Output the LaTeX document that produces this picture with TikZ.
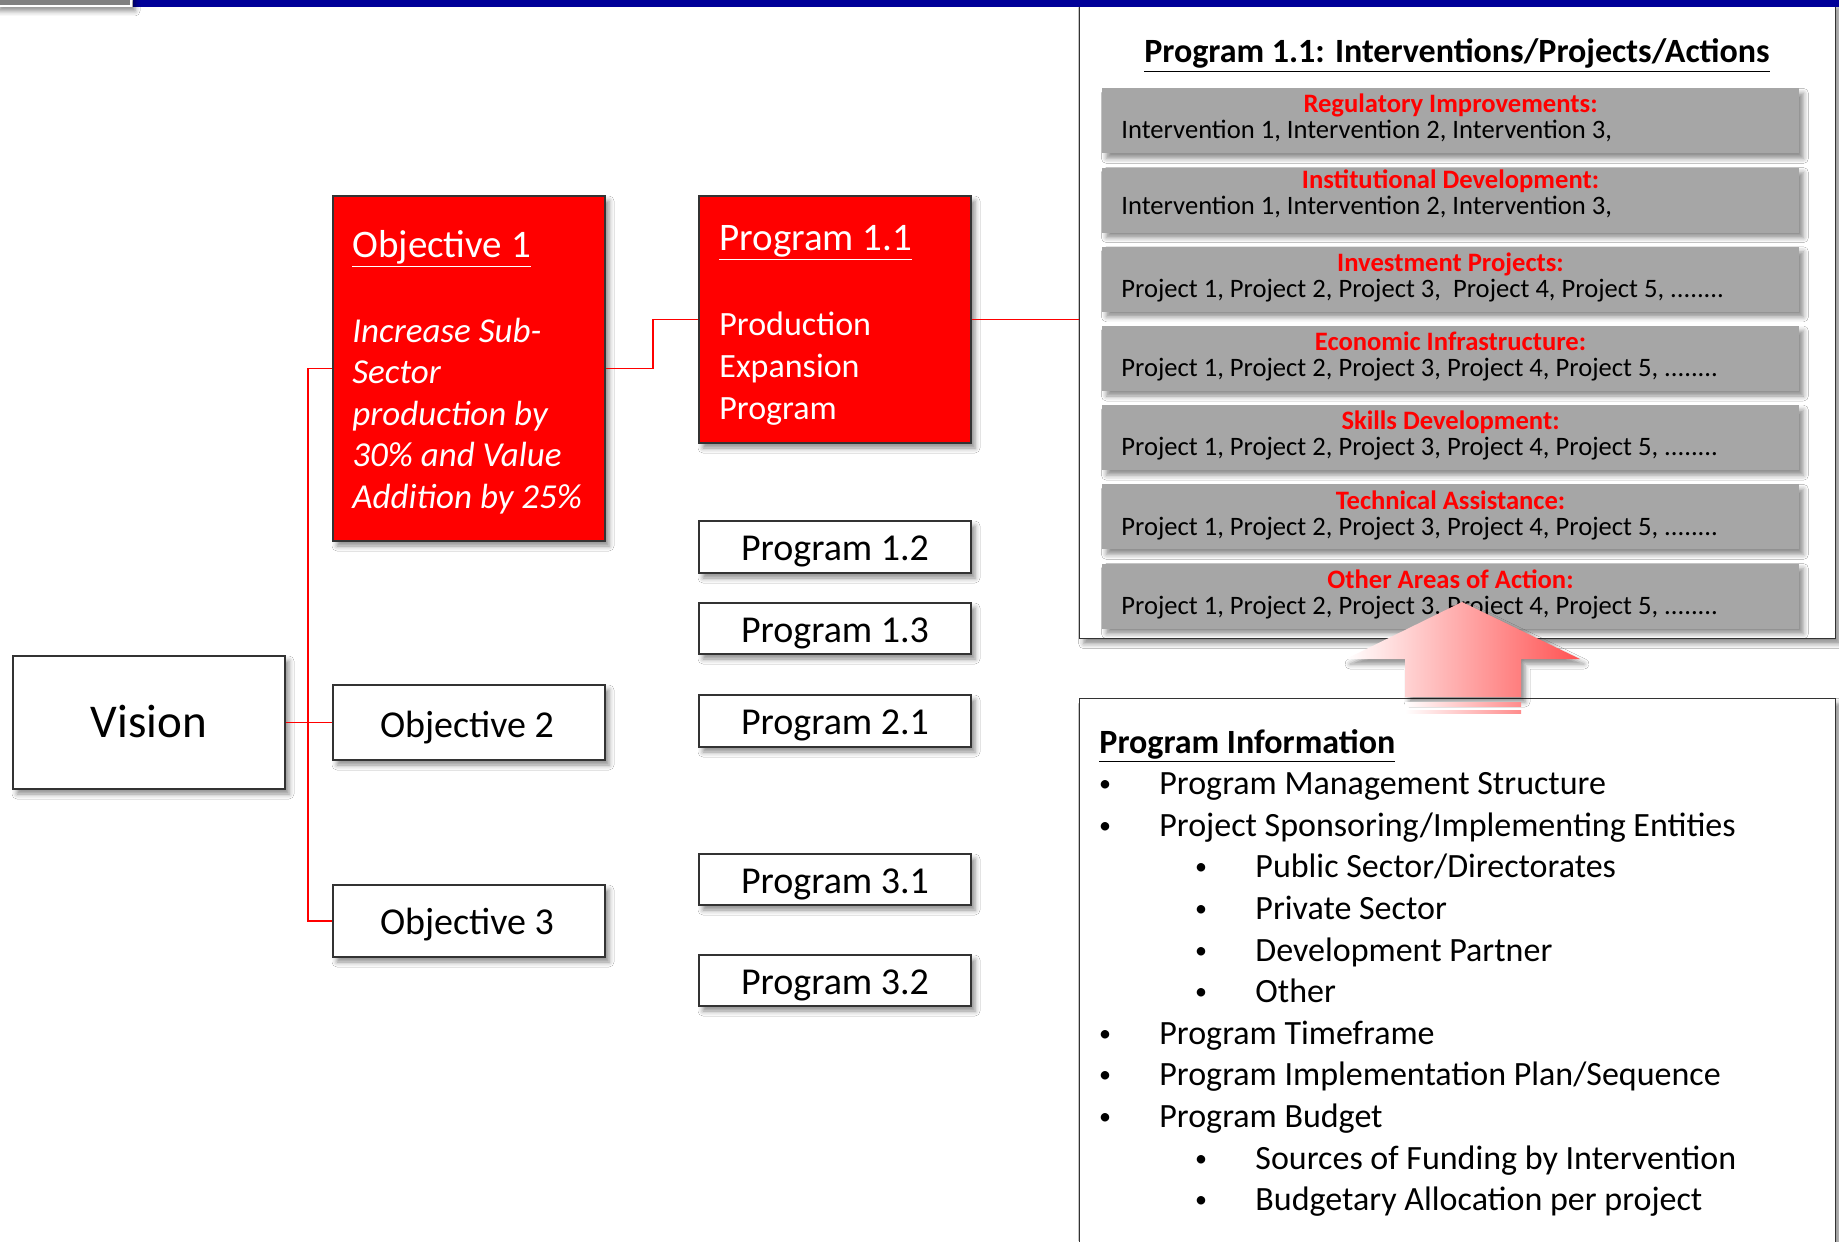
\documentclass[tikz,border=0pt]{standalone}
\usepackage{fontspec}
\setmainfont{Carlito}
\usetikzlibrary{shadows.blur}
\definecolor{barblue}{HTML}{000099}
\definecolor{bargray}{HTML}{A6A6A6}
\definecolor{topgray}{HTML}{808080}
\begin{document}
\begin{tikzpicture}[x=0.5pt,y=-0.5pt,
  shad/.style={blur shadow={shadow xshift=2pt,shadow yshift=-2.5pt,shadow blur radius=2.5pt,shadow opacity=45}},
  box/.style={draw=black!80,line width=0.7pt,fill=white,shad,inner sep=0pt},
  redbox/.style={box,fill=red},
  graybar/.style={fill=bargray,shad,inner sep=0pt,minimum width=348.5pt,minimum height=32.5pt,anchor=north west},
  lbl/.style={font=\fontsize{19}{23}\selectfont,inner sep=0pt,anchor=base},
  wlbl/.style={font=\fontsize{19.5}{23}\selectfont,text=white,inner sep=0pt,anchor=base west},
  wtxt/.style={font=\fontsize{17.5}{21}\selectfont,text=white,inner sep=0pt,anchor=base west},
  head/.style={font=\fontsize{13.3}{15}\selectfont\bfseries,text=red,inner sep=0pt,anchor=base},
  bartxt/.style={font=\fontsize{13.3}{15}\selectfont,inner sep=0pt,anchor=base west},
  itm/.style={font=\fontsize{17}{20}\selectfont,inner sep=0pt,anchor=base west},
  bul/.style={font=\fontsize{12}{14}\selectfont,inner sep=0pt,anchor=base},
  conn/.style={draw=red,line width=0.8pt}
]
\useasboundingbox (0,0) rectangle (1839,1241);
\clip (0,0) rectangle (1839,1241);
\fill[white] (0,0) rectangle (1839,1241);

% right panels
\node[box,minimum width=378pt,minimum height=318pt,anchor=north west] (panel1) at (1079,2) {};
\node[box,minimum width=378pt,minimum height=300pt,anchor=north west] (panel2) at (1079,698) {};

% top strip
\fill[barblue] (133,0) rectangle (1839,7);
\draw[white,line width=1pt,fill=topgray,shad] (-5,-5) rectangle (131,6);

% left boxes
\node[box,minimum width=136pt,minimum height=66.5pt] (vision) at (149,722.5) {};
\node[redbox,minimum width=136pt,minimum height=172.5pt] (obj1) at (469,368.5) {};
\node[box,minimum width=136pt,minimum height=37.5pt] (obj2) at (469,722.5) {};
\node[box,minimum width=136pt,minimum height=36pt] (obj3) at (469,921) {};
\node[redbox,minimum width=136pt,minimum height=123.5pt] (prog11) at (835,319.5) {};
\node[box,minimum width=136pt,minimum height=26pt] (prog12) at (835,547) {};
\node[box,minimum width=136pt,minimum height=25.5pt] (prog13) at (835,628.5) {};
\node[box,minimum width=136pt,minimum height=26pt] (prog21) at (835,721) {};
\node[box,minimum width=136pt,minimum height=25.5pt] (prog31) at (835,879.5) {};
\node[box,minimum width=136pt,minimum height=25.5pt] (prog32) at (835,980.5) {};

% labels
\node[lbl,font=\fontsize{23.5}{28}\selectfont] (tvision) at (149,737.5) {Vision};
\node[lbl] (tobj2) at (467,737) {Objective 2};
\node[lbl] (tobj3) at (467,934) {Objective 3};
\node[lbl] (tp12) at (835,560) {Program 1.2};
\node[lbl] (tp13) at (835,642) {Program 1.3};
\node[lbl] (tp21) at (835,734) {Program 2.1};
\node[lbl] (tp31) at (835,893) {Program 3.1};
\node[lbl] (tp32) at (835,994) {Program 3.2};

\node[wlbl] (tobj1) at (352,257) {\underline{Objective 1}};
\node[wtxt] (o1a) at (352,342) {\itshape Increase Sub-};
\node[wtxt] (o1b) at (352,383) {\itshape Sector};
\node[wtxt] (o1c) at (352,425) {\itshape production by};
\node[wtxt] (o1d) at (352,466) {\itshape 30\% and Value};
\node[wtxt] (o1e) at (352,508) {\itshape Addition by 25\%};

\node[wlbl] (tp11) at (719,250) {\underline{Program 1.1}};
\node[wtxt,font=\fontsize{17}{20}\selectfont] (p11a) at (719,335) {Production};
\node[wtxt,font=\fontsize{17}{20}\selectfont] (p11b) at (719,377) {Expansion};
\node[wtxt,font=\fontsize{17}{20}\selectfont] (p11c) at (719,419) {Program};

% connectors
\coordinate (trunk) at (308,722.5);
\draw[conn] (vision.east) -- (trunk);
\draw[conn] (trunk) |- (obj1.west);
\draw[conn] (trunk) |- (obj2.west);
\draw[conn] (trunk) |- (obj3.west);
\draw[conn] (obj1.east) -- ++(47,0) |- (prog11.west);
\draw[conn] (prog11.east) -- (panel1.west |- prog11.east);

% panel 1 content
\node[inner sep=0pt,anchor=base,font=\fontsize{17}{20}\selectfont\bfseries] (ptitle) at (1457,63) {\underline{Program 1.1: Interventions/Projects/Actions}};

\node[graybar] (bar1) at (1102,88) {};
\node[graybar] (bar2) at (1102,167.2) {};
\node[graybar] (bar3) at (1102,246.4) {};
\node[graybar] (bar4) at (1102,325.6) {};
\node[graybar] (bar5) at (1102,404.8) {};
\node[graybar] (bar6) at (1102,484) {};
\node[graybar] (bar7) at (1102,563.2) {};

\node[head] (h1) at (1450.5,113) {Regulatory Improvements:};
\node[bartxt] (t1) at (1121,139) {Intervention 1, Intervention 2, Intervention 3,};
\node[head] (h2) at (1450.5,189) {Institutional Development:};
\node[bartxt] (t2) at (1121,214) {Intervention 1, Intervention 2, Intervention 3,};
\node[head] (h3) at (1450.5,271.4) {Investment Projects:};
\node[bartxt] (t3) at (1121,297.4) {Project 1, Project 2, Project 3,\ \ Project 4, Project 5, ........};
\node[head] (h4) at (1450.5,350.6) {Economic Infrastructure:};
\node[bartxt] (t4) at (1121,376.6) {Project 1, Project 2, Project 3, Project 4, Project 5, ........};
\node[head] (h5) at (1450.5,429.8) {Skills Development:};
\node[bartxt] (t5) at (1121,455.8) {Project 1, Project 2, Project 3, Project 4, Project 5, ........};
\node[head] (h6) at (1450.5,509) {Technical Assistance:};
\node[bartxt] (t6) at (1121,535) {Project 1, Project 2, Project 3, Project 4, Project 5, ........};
\node[head] (h7) at (1450.5,588.2) {Other Areas of Action:};
\node[bartxt] (t7) at (1121,614.2) {Project 1, Project 2, Project 3, Project 4, Project 5, ........};

% big arrow
\path[left color=white,right color=red!68,shad]
  (1462,602) -- (1580,659) -- (1521,659) -- (1521,697) -- (1405,697) -- (1405,659) -- (1346,659) -- cycle;
\path[left color=white,right color=red!45] (1405,702) rectangle (1521,706);
\path[left color=white,right color=red!45] (1405,710) rectangle (1521,713);

% panel 2 content
\node[itm,font=\fontsize{17}{20}\selectfont\bfseries] (pinfo) at (1099,753) {\underline{Program Information}};
\foreach \yy/\lvl/\txt [count=\k] in {
  794.6/0/Program Management Structure,
  836.2/0/Project Sponsoring{/}Implementing Entities,
  877.8/1/Public Sector{/}Directorates,
  919.4/1/Private Sector,
  961/1/Development Partner,
  1002.6/1/Other,
  1044.2/0/Program Timeframe,
  1085.8/0/Program Implementation Plan{/}Sequence,
  1127.4/0/Program Budget,
  1169/1/Sources of Funding by Intervention,
  1210.6/1/Budgetary Allocation per project}{
  \ifnum\lvl=0
    \node[bul] (b\k) at (1105,\yy-3) {•};
    \node[itm] (i\k) at (1159,\yy) {\txt};
  \else
    \node[bul] (b\k) at (1201,\yy-3) {•};
    \node[itm] (i\k) at (1255,\yy) {\txt};
  \fi
}
\end{tikzpicture}
\end{document}
